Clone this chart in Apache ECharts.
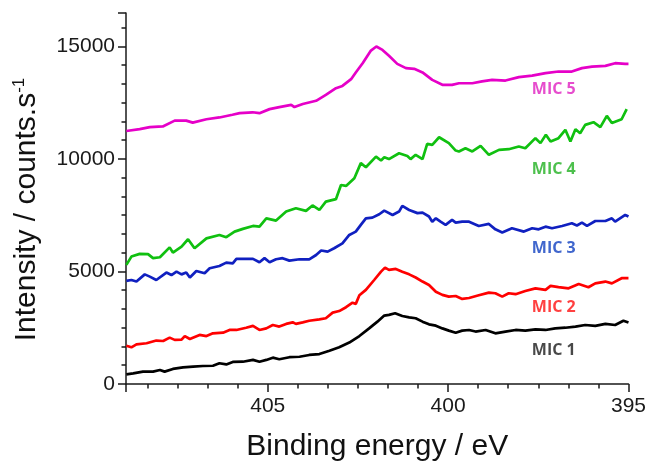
<!DOCTYPE html>
<html>
<head>
<meta charset="utf-8">
<script src="https://cdn.jsdelivr.net/npm/echarts@6/dist/echarts.min.js"></script>
<style>
  html, body { margin: 0; padding: 0; background: #fff; }
  #chart { width: 649px; height: 462px; }
</style>
</head>
<body>
<div id="chart"></div>
<script>
// binding energy (eV) / intensity (counts.s-1)
const mic5Energy = [408.92, 408.55, 408.27, 407.91, 407.58, 407.26, 407.08, 406.70, 406.34, 405.98, 405.78, 405.42, 405.23, 404.95, 404.68, 404.35, 404.26, 404.03, 403.66, 403.39, 403.11, 402.93, 402.69, 402.56, 402.37, 402.14, 401.99, 401.82, 401.64, 401.41, 401.17, 400.94, 400.71, 400.44, 400.16, 399.89, 399.70, 399.33, 399.06, 398.78, 398.41, 398.04, 397.67, 397.30, 396.94, 396.57, 396.29, 396.01, 395.64, 395.37, 395.09, 395.00];
const mic5Counts = [11240, 11320, 11410, 11440, 11700, 11700, 11610, 11760, 11840, 11960, 12030, 12070, 12030, 12210, 12300, 12400, 12300, 12440, 12580, 12840, 13140, 13240, 13540, 13840, 14250, 14810, 14990, 14840, 14580, 14220, 14030, 14000, 13840, 13510, 13290, 13290, 13360, 13360, 13440, 13510, 13480, 13630, 13700, 13810, 13880, 13880, 14030, 14100, 14130, 14250, 14220, 14220];

const mic4Energy = [408.92, 408.78, 408.55, 408.32, 408.18, 407.99, 407.72, 407.63, 407.39, 407.21, 407.03, 406.70, 406.34, 406.15, 405.92, 405.69, 405.41, 405.23, 405.04, 404.77, 404.49, 404.22, 403.94, 403.76, 403.57, 403.39, 403.11, 402.97, 402.83, 402.60, 402.42, 402.28, 402.00, 401.86, 401.77, 401.64, 401.36, 401.13, 401.04, 400.90, 400.71, 400.58, 400.44, 400.25, 399.98, 399.79, 399.70, 399.52, 399.33, 399.10, 398.87, 398.59, 398.32, 398.04, 397.86, 397.58, 397.44, 397.29, 397.16, 396.94, 396.75, 396.61, 396.47, 396.34, 396.20, 395.97, 395.78, 395.60, 395.46, 395.19, 395.05];
const mic4Counts = [5290, 5660, 5780, 5770, 5590, 5630, 6070, 5840, 6100, 6430, 6030, 6470, 6620, 6520, 6770, 6890, 7020, 6990, 7360, 7260, 7660, 7810, 7690, 7930, 7730, 8100, 8210, 8840, 8800, 9140, 9810, 9630, 10100, 9930, 10070, 9990, 10250, 10130, 9990, 10180, 9990, 10670, 10620, 10960, 10700, 10370, 10330, 10470, 10330, 10580, 10180, 10400, 10430, 10550, 10470, 10920, 10700, 11070, 10770, 10920, 11290, 10770, 11320, 11140, 11510, 11630, 11410, 11910, 11590, 11760, 12210];

const mic3Energy = [408.92, 408.78, 408.64, 408.41, 408.27, 408.09, 407.81, 407.67, 407.53, 407.39, 407.26, 407.16, 406.98, 406.75, 406.61, 406.34, 406.15, 405.97, 405.87, 405.69, 405.41, 405.23, 405.09, 404.95, 404.77, 404.59, 404.40, 404.12, 403.85, 403.66, 403.52, 403.34, 403.16, 402.93, 402.74, 402.56, 402.42, 402.28, 402.10, 401.91, 401.77, 401.54, 401.36, 401.27, 401.08, 400.85, 400.71, 400.53, 400.44, 400.34, 400.21, 400.07, 399.89, 399.79, 399.61, 399.42, 399.15, 398.87, 398.69, 398.50, 398.23, 397.90, 397.67, 397.49, 397.30, 397.12, 396.84, 396.57, 396.43, 396.29, 396.15, 395.92, 395.64, 395.46, 395.37, 395.09, 395.00];
const mic3Counts = [4580, 4620, 4550, 4870, 4770, 4620, 4950, 4840, 4990, 4870, 4950, 4730, 5020, 4920, 5140, 5240, 5390, 5360, 5560, 5560, 5560, 5410, 5590, 5410, 5540, 5590, 5480, 5540, 5540, 5730, 5930, 5880, 6030, 6250, 6620, 6770, 7070, 7360, 7390, 7540, 7700, 7510, 7660, 7910, 7730, 7590, 7610, 7440, 7210, 7360, 7210, 7070, 7290, 7170, 7210, 7210, 7020, 7110, 6870, 6730, 6920, 6770, 6920, 6870, 6990, 6920, 7020, 7140, 7040, 7170, 7020, 7240, 7240, 7360, 7210, 7510, 7440];

const mic2Energy = [408.92, 408.78, 408.64, 408.36, 408.09, 407.90, 407.72, 407.58, 407.39, 407.30, 407.16, 406.89, 406.70, 406.52, 406.24, 406.06, 405.87, 405.60, 405.41, 405.23, 405.04, 404.86, 404.68, 404.49, 404.31, 404.22, 404.03, 403.85, 403.57, 403.39, 403.20, 403.02, 402.83, 402.65, 402.56, 402.46, 402.28, 402.05, 401.86, 401.75, 401.64, 401.45, 401.27, 401.08, 400.90, 400.71, 400.53, 400.34, 400.16, 399.98, 399.79, 399.61, 399.42, 399.15, 398.87, 398.69, 398.50, 398.32, 398.13, 397.86, 397.58, 397.30, 397.16, 396.94, 396.66, 396.38, 396.11, 395.92, 395.64, 395.46, 395.19, 395.00];
const mic2Counts = [1700, 1630, 1760, 1810, 1930, 1910, 2060, 1960, 1970, 2130, 2000, 2180, 2130, 2250, 2280, 2400, 2400, 2500, 2580, 2400, 2470, 2620, 2550, 2670, 2740, 2670, 2740, 2810, 2870, 2920, 3170, 3240, 3410, 3610, 3560, 3940, 4180, 4620, 4990, 5170, 5070, 5110, 4990, 4870, 4730, 4550, 4400, 4100, 3960, 3880, 3910, 3780, 3820, 3940, 4060, 4030, 3880, 4030, 3990, 4130, 4250, 4180, 4360, 4300, 4250, 4440, 4300, 4470, 4550, 4470, 4700, 4700];

const mic1Energy = [408.92, 408.73, 408.46, 408.18, 407.99, 407.86, 407.63, 407.35, 407.07, 406.80, 406.52, 406.34, 406.15, 405.97, 405.69, 405.41, 405.23, 405.04, 404.86, 404.68, 404.40, 404.12, 403.85, 403.57, 403.29, 403.02, 402.74, 402.46, 402.19, 401.96, 401.77, 401.64, 401.47, 401.27, 401.08, 400.90, 400.71, 400.53, 400.34, 400.16, 399.98, 399.79, 399.61, 399.42, 399.24, 398.96, 398.69, 398.41, 398.13, 397.86, 397.58, 397.30, 397.03, 396.75, 396.47, 396.20, 395.92, 395.64, 395.37, 395.14, 395.00];
const mic1Counts = [430, 470, 550, 550, 620, 550, 670, 740, 770, 800, 810, 920, 870, 980, 990, 1070, 990, 1070, 1170, 1100, 1190, 1210, 1290, 1330, 1480, 1630, 1840, 2130, 2470, 2770, 3040, 3070, 3140, 3020, 2960, 2920, 2770, 2650, 2590, 2470, 2370, 2280, 2370, 2400, 2330, 2400, 2250, 2330, 2400, 2370, 2430, 2400, 2470, 2500, 2550, 2620, 2580, 2670, 2620, 2810, 2730];

// curve names and where their tags sit
const labelNames = ['MIC 5', 'MIC 4', 'MIC 3', 'MIC 2', 'MIC 1'];
const labelEnergy = [397.68, 397.68, 397.68, 397.68, 397.68];
const labelCounts = [13070, 9510, 6000, 3380, 1470];

const xMin = 395, xMax = 408.93, xStep = 5;
const yMin = 0, yMax = 16480, yStep = 5000;

const chart = echarts.init(document.getElementById('chart'));

const colors = ['#E600C8', '#10C010', '#1020C0', '#FF0000', '#000000'];
const textColors = ['#E020C0', '#20B020', '#1040C0', '#FF1010', '#1a1a1a'];
const curves = [
  [mic5Energy, mic5Counts],
  [mic4Energy, mic4Counts],
  [mic3Energy, mic3Counts],
  [mic2Energy, mic2Counts],
  [mic1Energy, mic1Counts],
];

const axisColor = '#1a1a1a';
const labelFont = 'Liberation Sans, Arial, sans-serif';
const tickLine = { color: axisColor, width: 1.5 };

// only whole steps get a label (the axis end is a tick too)
const onStep = step => v => (Math.abs(v / step - Math.round(v / step)) < 1e-6 ? String(v) : '');

const series = curves.map((c, i) => ({
  name: labelNames[i],
  type: 'line',
  xAxisIndex: 0,
  yAxisIndex: 0,
  data: c[0].map((e, k) => [e, c[1][k]]),
  showSymbol: false,
  symbol: 'none',
  lineStyle: { width: 2.7, color: colors[i] },
  itemStyle: { color: colors[i] },
  animation: false,
}));

series.push({
  type: 'scatter',
  xAxisIndex: 0,
  yAxisIndex: 0,
  symbolSize: 0,
  animation: false,
  data: labelNames.map((n, i) => ({
    name: n,
    value: [labelEnergy[i], labelCounts[i]],
    label: { color: textColors[i] },
  })),
  label: {
    show: true,
    position: 'right',
    distance: 0,
    formatter: '{b}',
    fontFamily: 'Open Sans',
    fontWeight: 'bold',
    fontSize: 16,
    verticalAlign: 'middle',
  },
});

const option = {
  backgroundColor: '#fff',
  animation: false,
  grid: { left: 126, right: 19, top: 13, bottom: 78, outerBoundsContain: 'axisLabel' },
  xAxis: [
    {
      type: 'value',
      position: 'bottom',
      inverse: true,
      min: xMin,
      max: xMax,
      interval: xStep,
      splitLine: { show: false },
      axisLine: { show: true, lineStyle: { color: axisColor, width: 1.5 } },
      axisTick: { show: true, length: 8, lineStyle: tickLine },
      axisLabel: {
        formatter: onStep(xStep),
        fontSize: 21, color: '#1a1a1a', fontFamily: labelFont, margin: 12,
      },
      name: 'Binding energy / eV',
      nameLocation: 'middle',
      nameGap: 48,
      nameTextStyle: { fontSize: 30, lineHeight: 30, color: '#111', fontFamily: labelFont },
    },
    {
      type: 'value',
      position: 'bottom',
      inverse: true,
      min: xMin,
      max: xMax,
      interval: xStep / 6,
      splitLine: { show: false },
      axisLine: { show: false },
      axisTick: { show: true, length: 4.5, lineStyle: tickLine },
      axisLabel: { show: false },
    },
  ],
  yAxis: [
    {
      type: 'value',
      position: 'left',
      min: yMin,
      max: yMax,
      interval: yStep,
      splitLine: { show: false },
      axisLine: { show: true, lineStyle: { color: axisColor, width: 1.5 } },
      axisTick: { show: true, length: 8, lineStyle: tickLine },
      axisLabel: {
        formatter: onStep(yStep),
        fontSize: 21, color: '#1a1a1a', fontFamily: labelFont, margin: 11,
      },
      name: 'Intensity / counts.s{sup|-1}',
      nameLocation: 'middle',
      nameRotate: 90,
      nameGap: 84,
      nameTextStyle: {
        fontSize: 30,
        color: '#111',
        fontFamily: labelFont,
        padding: [0, 22, 0, 0],
        rich: {
          sup: { fontSize: 17, fontFamily: labelFont, color: '#111', verticalAlign: 'top', padding: [0, 0, 14, 0] },
        },
      },
    },
    {
      type: 'value',
      position: 'left',
      min: yMin,
      max: yMax,
      interval: yStep / 6,
      splitLine: { show: false },
      axisLine: { show: false },
      axisTick: { show: true, length: 4.5, lineStyle: tickLine },
      axisLabel: { show: false },
    },
  ],
  series: series,
};

chart.setOption(option);
window.addEventListener('resize', () => {
  chart.resize();
});
</script>
</body>
</html>
